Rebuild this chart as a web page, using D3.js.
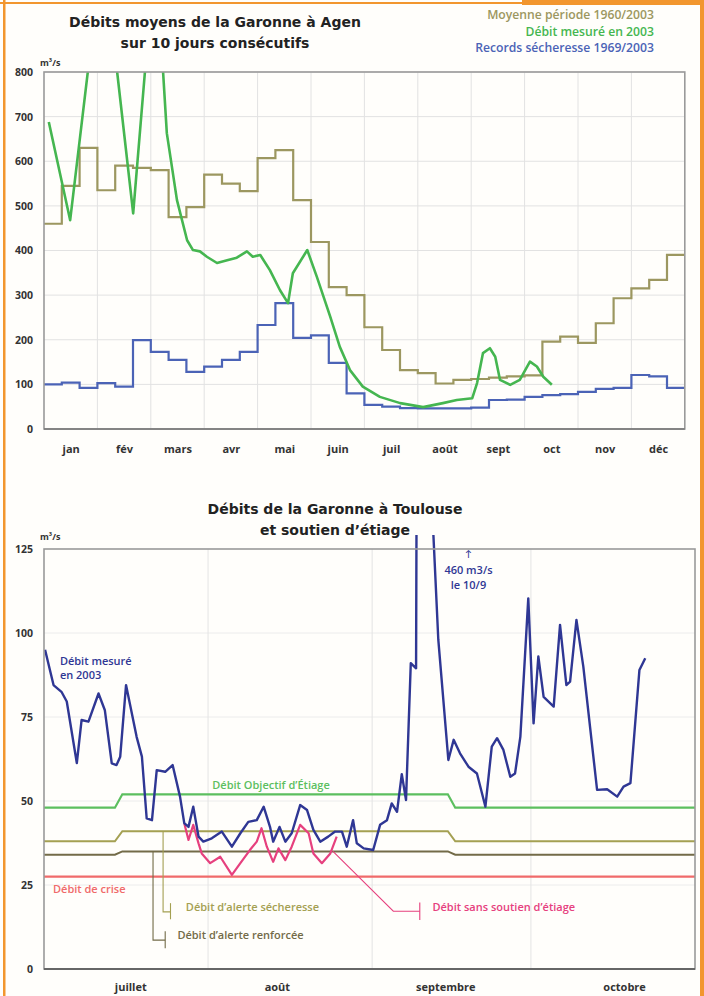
<!DOCTYPE html>
<html><head><meta charset="utf-8">
<script src="https://cdn.jsdelivr.net/npm/d3@7"></script>
<style>
html,body{margin:0;padding:0;background:#fffefb;}
svg{display:block;font-family:"Open Sans",Lato,sans-serif;}
</style></head>
<body>
<svg id="c" width="704" height="996"></svg>
<script>
// ---------- DATA : top chart (Agen, 10-day means, 36 decades) ----------
const topMonths = ['jan','fév','mars','avr','mai','juin','juil','août','sept','oct','nov','déc'];
const topYTicks = [0,100,200,300,400,500,600,700,800];
const moyenne1960_2003 = [460,545,630, 535,590,585, 580,475,497, 570,550,533, 607,625,513, 419,318,300,
                          228,177,132, 125,102,110, 112,115,118, 120,196,207, 193,237,293, 315,334,390];
const records1969_2003 = [100,104,92, 103,95,199, 173,155,128, 140,155,173, 233,282,204, 210,148,80,
                          54,50,47, 46,46,46, 48,65,66, 72,76,78, 83,90,92, 121,118,92];
// month position (0 = 1 Jan, 12 = 31 Dec), value m3/s
const debit2003Month = [0.09,0.49,0.84,1.05,1.37,1.67,1.89,2.06,2.23,2.30,2.49,2.68,2.79,2.92,3.05,3.24,3.43,3.61,3.80,3.91,
  4.05,4.23,4.42,4.57,4.66,4.93,5.11,5.36,5.54,5.73,5.97,6.29,6.67,7.10,7.47,7.73,8.02,8.11,8.22,8.35,8.45,8.54,8.73,8.91,9.10,9.23,9.35,9.51];
const debit2003Value = [688,468,820,1250,800,483,800,1150,800,663,513,423,401,398,386,372,378,384,398,386,
  390,356,311,282,349,401,341,252,184,132,95,72,58,49,58,65,69,103,170,181,162,110,99,110,151,140,117,99];
const topLegend = ['Moyenne période 1960/2003','Débit mesuré en 2003','Records sécheresse 1969/2003'];

// ---------- DATA : bottom chart (Toulouse, daily, day 0 = 1 July) ----------
const botMonths = ['juillet','août','septembre','octobre'];
const botMonthLabelDays = [16.3, 44, 75.8, 109.6];
const botGridDays = [31, 62, 92];
const botYTicks = [0,25,50,75,100,125];
const mesureDay = [0.2,1.8,3.3,4.3,6.2,7.1,8.4,10.3,11.5,12.8,13.7,14.4,15.5,17.5,18.5,19.4,20.4,21.3,22.9,24.3,25.7,26.5,27.3,
  28.2,29.2,30.1,31.7,33.6,35.5,37.1,38.6,40.2,41.5,42.7,43.3,44.5,45.6,46.8,48.4,49.7,50.9,52.2,53.7,55,56.3,57.2,58.4,59.1,60.4,62.2,
  63.5,64.8,65.7,66.7,67.6,68.4,69.3,70.3,71,73.4,74.5,76.4,77.4,78.6,80.2,81.8,83.4,84.6,85.6,86.8,88.1,89,90,91.5,92.5,93.4,94.4,
  96.3,97.5,98.7,99.4,100.6,101.9,104.5,106.4,108.3,109.5,110.8,112.5,113.6];
const mesureValue = [95,84.5,82.5,79.6,61.3,74.1,73.6,82,77,61.2,60.7,63.2,84.5,69.1,63.2,44.8,44.3,59.2,58.7,60.7,51.3,43.4,42.3,
  48.3,39.4,37.9,38.9,40.9,36.4,40.4,43.8,44.3,48.3,42.3,37.9,42.3,37.9,40.4,48.8,47.3,41.4,37.9,39.4,40.9,40.9,36.4,44.3,37.4,35.9,35.4,
  42.9,44.3,49.3,46.8,58,50.3,91,89.5,460,135,98,62.2,68.2,64.2,60.2,58.2,48.3,66.2,68.7,65.2,57.2,58.2,69.1,110.3,73.1,93,81,
  78.1,102.4,84.5,85.5,103.9,90,53.3,53.5,51.3,54.3,55.3,89,92.5];
const sansSoutienDay = [26.5,27.3,28.2,29.2,29.8,31.4,33.3,35.5,37.1,38.9,40.2,41.1,42.1,43.3,44.3,45.6,46.8,48.4,50,50.9,52.5,54.1,55.3];
const sansSoutienValue = [43.4,38.4,42.9,37.4,34.4,31.5,33.4,28,31.5,35.4,37.9,41.9,36.4,31.9,35.9,32.4,36.4,42.9,40.4,34.4,31.5,34.4,39.4];
const seuilDays = [0,13.4,14.8,76.3,77.7,123];
const objectifEtiage = [48,48,52,52,48,48];
const alerteSecheresse = [38,38,41,41,38,38];
const alerteRenforcee = [34,34,35,35,34,34];
const debitCrise = [27.5,27.5,27.5,27.5,27.5,27.5];

// ---------- STYLE ----------
const C = {
  olive:'#9c9760', green:'#45b650', blue:'#4b63b6',
  navy:'#2f3794', pink:'#e6407e', obj:'#5cbf5f', sech:'#a4a052', renf:'#736b48', crise:'#f06a6a',
  grid:'#e2e2e2', frame:'#9a9a9a', text:'#333', orange:'#f2962e'
};
const TITLE_FONT = '"DejaVu Sans",Verdana,sans-serif';
const svg = d3.select('#c');
svg.append('rect').attr('width',704).attr('height',996).attr('fill','#fffefb');

// orange frame
svg.append('rect').attr('x',3).attr('y',0).attr('width',2.5).attr('height',996).attr('fill',C.orange);
svg.append('rect').attr('x',0).attr('y',2).attr('width',522).attr('height',2).attr('fill',C.orange);
svg.append('rect').attr('x',522).attr('y',0).attr('width',182).attr('height',5).attr('fill',C.orange);
svg.append('rect').attr('x',700).attr('y',0).attr('width',4).attr('height',996).attr('fill',C.orange);

// ================= TOP CHART =================
const T = {l:44, r:684.8, t:72, b:429};
const xT = d3.scaleLinear().domain([0,12]).range([T.l,T.r]);
const yT = d3.scaleLinear().domain([0,800]).range([T.b,T.t]);
const gT = svg.append('g');

gT.selectAll('.hg').data(topYTicks).join('line')
  .attr('x1',T.l).attr('x2',T.r).attr('y1',d=>yT(d)).attr('y2',d=>yT(d))
  .attr('stroke',C.grid).attr('stroke-width',1);
gT.selectAll('.vg').data(d3.range(1,12)).join('line')
  .attr('x1',d=>xT(d)).attr('x2',d=>xT(d)).attr('y1',T.t).attr('y2',T.b)
  .attr('stroke',C.grid).attr('stroke-width',1);

svg.append('clipPath').attr('id','clipT').append('rect')
  .attr('x',T.l).attr('y',T.t).attr('width',T.r-T.l).attr('height',T.b-T.t);

const stepLine = d3.line().x(d=>xT(d[0])).y(d=>yT(d[1])).curve(d3.curveStepAfter);
function stepData(arr){ const p = arr.map((v,i)=>[i/3,v]); p.push([12,arr[arr.length-1]]); return p; }

gT.append('path').attr('d',stepLine(stepData(moyenne1960_2003)))
  .attr('fill','none').attr('stroke',C.olive).attr('stroke-width',2.2);
gT.append('path').attr('d',stepLine(stepData(records1969_2003)))
  .attr('fill','none').attr('stroke',C.blue).attr('stroke-width',2.2);
const g2003 = debit2003Month.map((m,i)=>[m,debit2003Value[i]]);
gT.append('path').attr('clip-path','url(#clipT)')
  .attr('d',d3.line().x(d=>xT(d[0])).y(d=>yT(d[1]))(g2003))
  .attr('fill','none').attr('stroke',C.green).attr('stroke-width',2.6).attr('stroke-linejoin','round');

gT.append('rect').attr('x',T.l).attr('y',T.t).attr('width',T.r-T.l).attr('height',T.b-T.t)
  .attr('fill','none').attr('stroke',C.frame).attr('stroke-width',1.6);
gT.append('line').attr('x1',T.l).attr('x2',T.r).attr('y1',T.b).attr('y2',T.b).attr('stroke','#777').attr('stroke-width',1.6);

const axYT = gT.append('g').attr('transform',`translate(${T.l-8},0)`)
  .call(d3.axisLeft(yT).tickValues(topYTicks).tickSize(0).tickPadding(3).tickFormat(d3.format('d')));
axYT.select('.domain').remove();
axYT.selectAll('text').attr('font-size',10.5).attr('font-weight',700).attr('fill',C.text).attr('font-family','"Open Sans",sans-serif');

const axXT = gT.append('g').attr('transform',`translate(0,${T.b+13})`)
  .call(d3.axisBottom(xT).tickValues(d3.range(12).map(i=>i+0.5)).tickSize(0).tickFormat((d,i)=>topMonths[i]));
axXT.select('.domain').remove();
axXT.selectAll('text').attr('font-size',11).attr('font-weight',700).attr('fill',C.text).attr('font-family','"Open Sans",sans-serif');

gT.append('text').attr('x',40).attr('y',66).attr('font-size',9).attr('font-weight',700).attr('fill',C.text)
  .text('m³/s');

const titleT = gT.append('text').attr('font-size',14).attr('font-weight',700).attr('fill','#222')
  .attr('text-anchor','middle').attr('font-family',TITLE_FONT);
titleT.append('tspan').attr('x',215).attr('y',27).text('Débits moyens de la Garonne à Agen');
titleT.append('tspan').attr('x',215).attr('y',48).text('sur 10 jours consécutifs');

const legCol = [C.olive, C.green, C.blue];
gT.selectAll('.leg').data(topLegend).join('text')
  .attr('x',654).attr('y',(d,i)=>19+i*16.5).attr('text-anchor','end')
  .attr('font-size',12.2).attr('font-weight',600).attr('fill',(d,i)=>legCol[i]).text(d=>d);

// ================= BOTTOM CHART =================
const B = {l:44, r:695, t:549, b:969};
const xB = d3.scaleLinear().domain([0,123]).range([B.l,B.r]);
const yB = d3.scaleLinear().domain([0,125]).range([B.b,B.t]);
const gB = svg.append('g');

gB.selectAll('.hg').data(botYTicks.slice(1,-1)).join('line')
  .attr('x1',B.l).attr('x2',B.r).attr('y1',d=>yB(d)).attr('y2',d=>yB(d))
  .attr('stroke','#ececec').attr('stroke-width',1);
gB.selectAll('.vg').data(botGridDays).join('line')
  .attr('x1',d=>xB(d)).attr('x2',d=>xB(d)).attr('y1',B.t).attr('y2',B.b)
  .attr('stroke','#e4e4e4').attr('stroke-width',1);

svg.append('clipPath').attr('id','clipB').append('rect')
  .attr('x',B.l).attr('y',B.t-14).attr('width',B.r-B.l).attr('height',B.b-B.t+14);

const lineB = d3.line().x(d=>xB(d[0])).y(d=>yB(d[1]));
const seuils = [[debitCrise,C.crise,2.2],[alerteRenforcee,C.renf,2],[alerteSecheresse,C.sech,2],[objectifEtiage,C.obj,2.2]];
seuils.forEach(([vals,col,w])=>{
  gB.append('path').attr('d',lineB(seuilDays.map((d,i)=>[d,vals[i]])))
    .attr('fill','none').attr('stroke',col).attr('stroke-width',w);
});

// leaders
function leader(pts,col){ gB.append('path').attr('d',lineB(pts)).attr('fill','none').attr('stroke',col).attr('stroke-width',1.1); }
leader([[22.5,41],[22.5,17],[23.9,17]],C.sech);
leader([[23.9,19.6],[23.9,14.8]],C.sech);
leader([[20.6,35],[20.6,8.6],[22.9,8.6]],C.renf);
leader([[22.9,11.2],[22.9,6.2]],C.renf);
leader([[54.6,35],[66,17.2],[71,17.2]],C.pink);
leader([[71,19.8],[71,14.6]],C.pink);

const sans = sansSoutienDay.map((d,i)=>[d,sansSoutienValue[i]]);
gB.append('path').attr('d',lineB(sans))
  .attr('fill','none').attr('stroke',C.pink).attr('stroke-width',2.2).attr('stroke-linejoin','round');
const mes = mesureDay.map((d,i)=>[d,mesureValue[i]]);
gB.append('path').attr('clip-path','url(#clipB)').attr('d',lineB(mes))
  .attr('fill','none').attr('stroke',C.navy).attr('stroke-width',2.4).attr('stroke-linejoin','round');

gB.append('rect').attr('x',B.l).attr('y',B.t).attr('width',B.r-B.l).attr('height',B.b-B.t)
  .attr('fill','none').attr('stroke',C.frame).attr('stroke-width',1.6);
gB.append('line').attr('x1',B.l).attr('x2',B.r).attr('y1',B.b).attr('y2',B.b).attr('stroke','#666').attr('stroke-width',1.8);

const axYB = gB.append('g').attr('transform',`translate(${B.l-8},0)`)
  .call(d3.axisLeft(yB).tickValues(botYTicks).tickSize(0).tickPadding(3).tickFormat(d3.format('d')));
axYB.select('.domain').remove();
axYB.selectAll('text').attr('font-size',10.5).attr('font-weight',700).attr('fill',C.text).attr('font-family','"Open Sans",sans-serif');

const axXB = gB.append('g').attr('transform',`translate(0,${B.b+11})`)
  .call(d3.axisBottom(xB).tickValues(botMonthLabelDays).tickSize(0).tickFormat((d,i)=>botMonths[i]));
axXB.select('.domain').remove();
axXB.selectAll('text').attr('font-size',11).attr('font-weight',700).attr('fill',C.text).attr('font-family','"Open Sans",sans-serif');

gB.append('text').attr('x',40).attr('y',540).attr('font-size',9).attr('font-weight',700).attr('fill',C.text).text('m³/s');

const titleB = gB.append('text').attr('font-size',14).attr('font-weight',700).attr('fill','#222')
  .attr('text-anchor','middle').attr('font-family',TITLE_FONT);
titleB.append('tspan').attr('x',335).attr('y',514).text('Débits de la Garonne à Toulouse');
titleB.append('tspan').attr('x',335).attr('y',535).text('et soutien d’étiage');

function lab(day,val,txt,col,anchor,size){
  return gB.append('text').attr('x',xB(day)).attr('y',yB(val)).attr('font-size',size||11).attr('font-weight',600)
    .attr('fill',col).attr('text-anchor',anchor||'start').text(txt);
}
lab(31.8,53.5,'Débit Objectif d’Étiage',C.obj);
lab(1.7,22.6,'Débit de crise',C.crise);
lab(26.8,17.3,'Débit d’alerte sécheresse',C.sech);
lab(25.2,8.8,'Débit d’alerte renforcée',C.renf);
lab(73.4,17.3,'Débit sans soutien d’étiage',C.pink);
lab(3.0,90.6,'Débit mesuré',C.navy);
lab(3.0,86.2,'en 2003',C.navy);
lab(80.2,122.6,'↑',C.navy,'middle',9);
lab(80.2,117.6,'460 m3/s',C.navy,'middle');
lab(80.2,113.2,'le 10/9',C.navy,'middle');
</script>
</body></html>
